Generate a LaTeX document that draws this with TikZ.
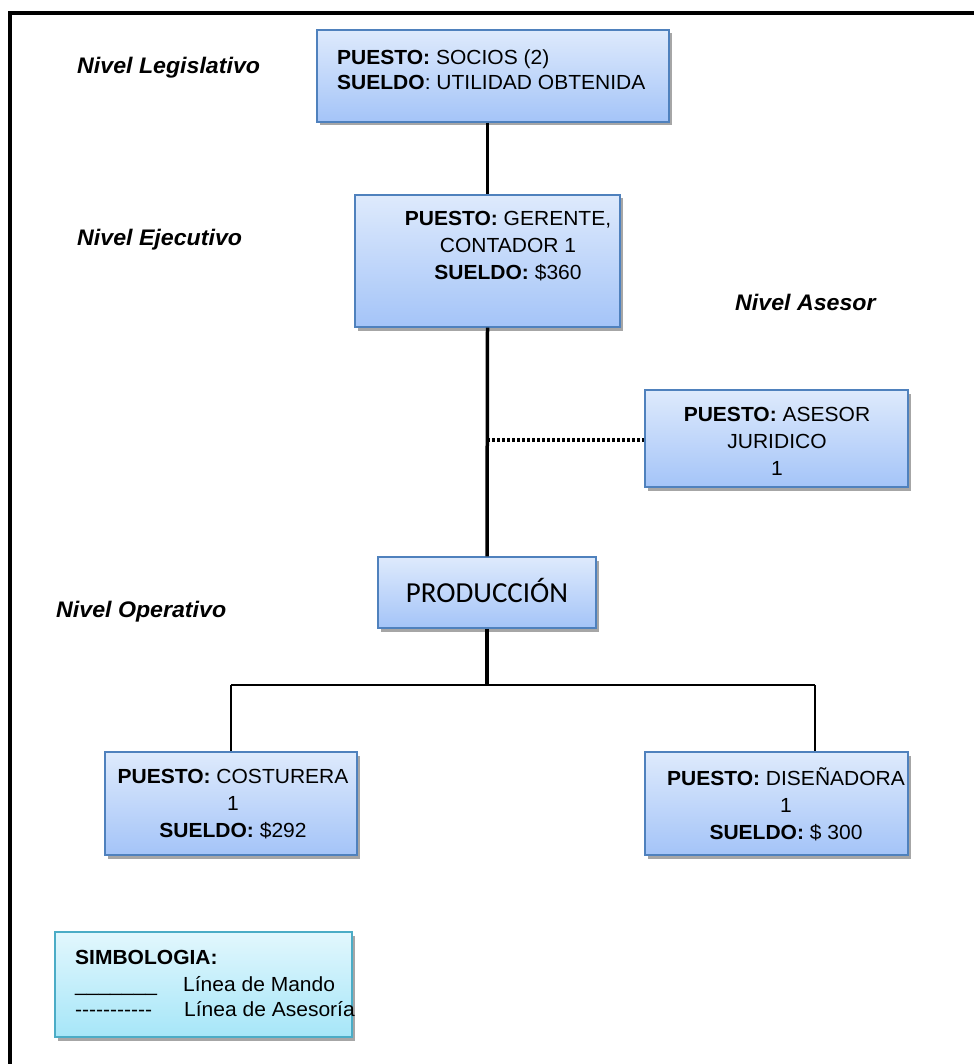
\documentclass[tikz,border=0pt]{standalone}
\usepackage{fontspec}
\setmainfont{Liberation Sans}[FakeStretch=1.03]
\newfontfamily\calib{Carlito}
\usetikzlibrary{shadows}
\definecolor{boxtop}{RGB}{222,234,252}
\definecolor{boxbot}{RGB}{164,196,248}
\definecolor{boxline}{RGB}{79,129,189}
\definecolor{legtop}{RGB}{226,247,253}
\definecolor{legbot}{RGB}{166,230,248}
\definecolor{legline}{RGB}{75,172,198}
\begin{document}
\begin{tikzpicture}[x=1pt,y=-1pt,
  orgbox/.style={draw=boxline,line width=1.3pt,top color=boxtop,bottom color=boxbot,
    drop shadow={shadow xshift=2.5pt,shadow yshift=-3.5pt,fill=black,opacity=0.35},
    inner sep=0pt},
  legbox/.style={draw=legline,line width=1.3pt,top color=legtop,bottom color=legbot,
    drop shadow={shadow xshift=2.5pt,shadow yshift=-3.5pt,fill=black,opacity=0.35},
    inner sep=0pt},
  boxtext/.style={font=\fontsize{20.4}{27}\selectfont,align=center,inner sep=0pt},
  lvl/.style={font=\fontsize{22.5}{24}\selectfont\bfseries\itshape,inner sep=0pt,anchor=west},
  mando/.style={line width=3.5pt},
  mandothin/.style={line width=1.6pt},
  asesoria/.style={line width=3.5pt,dash pattern=on 3pt off 2pt}]
\useasboundingbox (0,0) rectangle (974,1064);
% outer frame (cropped at right and bottom)
\draw[line width=4pt] (10,1064) -- (10,13) -- (974,13);

% boxes
\node[orgbox,minimum width=352,minimum height=92] (soc) at (493,76) {};
\node[boxtext,align=left,anchor=west,font=\fontsize{20.4}{25}\selectfont] (soct) at (337,70)
  {\textbf{PUESTO:} SOCIOS (2)\\ \textbf{SUELDO}: UTILIDAD OBTENIDA};

\node[orgbox,minimum width=265,minimum height=132] (ger) at (487.5,261) {};
\node[boxtext] (gert) at (508,246) {\textbf{PUESTO:} GERENTE,\\CONTADOR 1\\\textbf{SUELDO:} \$360};

\node[orgbox,minimum width=263,minimum height=97] (ase) at (776.5,438.5) {};
\node[boxtext] (aset) at (777,441) {\textbf{PUESTO:} ASESOR\\JURIDICO\\1};

\node[orgbox,minimum width=218,minimum height=71] (pro) at (487,592.5) {};
\node[inner sep=0pt,font=\calib\fontsize{29}{32}\selectfont] (prot) at (487,590) {PRODUCCIÓN};

\node[orgbox,minimum width=252,minimum height=103] (cos) at (231,803.5) {};
\node[boxtext] (cost) at (233,804) {\textbf{PUESTO:} COSTURERA\\1\\\textbf{SUELDO:} \$292};

\node[orgbox,minimum width=263,minimum height=103] (dis) at (776.5,803.5) {};
\node[boxtext] (dist) at (786,804) {\textbf{PUESTO:} DISEÑADORA\\1\\\textbf{SUELDO:} \$ 300};

% level labels
\node[lvl] (l1) at (77,68) {Nivel Legislativo};
\node[lvl] (l2) at (77,240) {Nivel Ejecutivo};
\node[lvl] (l3) at (735,302) {Nivel Asesor};
\node[lvl] (l4) at (56,612) {Nivel Operativo};

% connectors
\draw[mando] (soc.south -| ger.north) -- (ger.north);
\draw[mando] (ger.south) -- (pro.north);
\coordinate (dotL) at (487,440);
\draw[asesoria] (dotL) -- (dotL -| ase.west);
\coordinate (jM) at (487,685);
\coordinate (jL) at (231,685);
\coordinate (jR) at (815,685);
\draw[mando] (pro.south) -- (jM);
\draw[mandothin] (jL) -- (jR);
\draw[mandothin] (jL) -- (cos.north);
\draw[line width=2.5pt] (jR) -- (jR |- dis.north);

% legend
\node[legbox,minimum width=297,minimum height=105] (leg) at (203.5,984.5) {};
\node[boxtext,anchor=base west,font=\fontsize{20.4}{25}\selectfont\bfseries] (legt) at (75,964) {SIMBOLOGIA:};
\node[boxtext,anchor=base west] (leg1a) at (75,991) {\_\_\_\_\_\_\_};
\node[boxtext,anchor=base west] (leg1b) at (183,991) {Línea de Mando};
\node[boxtext,anchor=base west] (leg2a) at (75,1016) {-{}-{}-{}-{}-{}-{}-{}-{}-{}-{}-};
\node[boxtext,anchor=base west] (leg2b) at (184,1016) {Línea de Asesoría};
\end{tikzpicture}
\end{document}
